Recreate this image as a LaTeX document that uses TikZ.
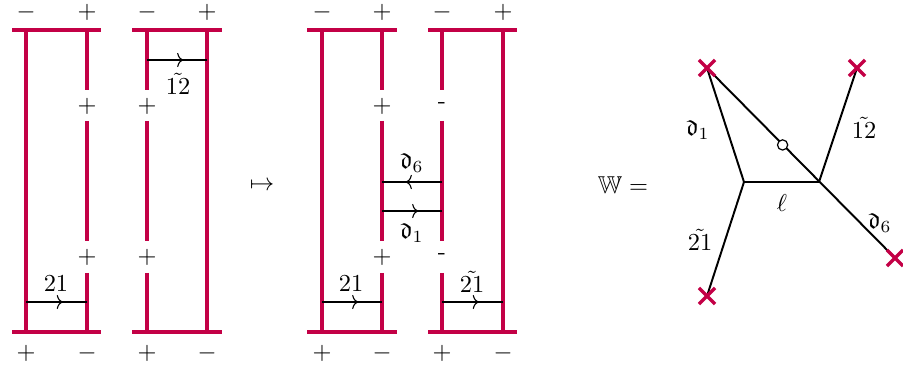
\documentclass[tikz,border=0pt]{standalone}
\usepackage{amssymb}
\usetikzlibrary{decorations.markings,shapes.misc,calc,arrows.meta}
\definecolor{crim}{RGB}{195,0,70}
\begin{document}
\begin{tikzpicture}[x=0.41pt,y=-0.41pt,
  rail/.style={draw=crim,line width=1.7pt},
  midarrow/.style={draw,line width=0.45pt,postaction={decorate},
    decoration={markings,mark=at position 0.6 with {\arrow{To[length=2.4pt,width=5.8pt]}}}},
  lbl/.style={inner sep=0pt},
  wline/.style={draw,line width=0.8pt},
  xmark/.style={draw=crim,line width=1.4pt,cross out,minimum size=5.2pt,inner sep=0pt},
  opendot/.style={draw,fill=white,circle,line width=0.5pt,minimum size=4.2pt,inner sep=0pt}]
\useasboundingbox (0,0) rectangle (903,371);

% ---------- ladder coordinates ----------
% ladder 1
\coordinate (a1tl) at (12,30);  \coordinate (a1tr) at (101,30);
\coordinate (a1bl) at (12,332); \coordinate (a1br) at (101,332);
\coordinate (a1Lt) at (26,30);  \coordinate (a1Lb) at (26,332);
\coordinate (a1Rt) at (87,30);  \coordinate (a1R1) at (87,90);
\coordinate (a1R2) at (87,121); \coordinate (a1R3) at (87,241);
\coordinate (a1R4) at (87,273); \coordinate (a1Rb) at (87,332);
% ladder 2
\coordinate (a2tl) at (132,30);  \coordinate (a2tr) at (222,30);
\coordinate (a2bl) at (132,332); \coordinate (a2br) at (222,332);
\coordinate (a2Rt) at (207,30);  \coordinate (a2Rb) at (207,332);
\coordinate (a2Lt) at (147,30);  \coordinate (a2L1) at (147,90);
\coordinate (a2L2) at (147,121); \coordinate (a2L3) at (147,241);
\coordinate (a2L4) at (147,273); \coordinate (a2Lb) at (147,332);
% ladder 3
\coordinate (a3tl) at (307,30);  \coordinate (a3tr) at (397,30);
\coordinate (a3bl) at (307,332); \coordinate (a3br) at (397,332);
\coordinate (a3Lt) at (322,30);  \coordinate (a3Lb) at (322,332);
\coordinate (a3Rt) at (382,30);  \coordinate (a3R1) at (382,90);
\coordinate (a3R2) at (382,121); \coordinate (a3R3) at (382,241);
\coordinate (a3R4) at (382,273); \coordinate (a3Rb) at (382,332);
% ladder 4
\coordinate (a4tl) at (428,30);  \coordinate (a4tr) at (517,30);
\coordinate (a4bl) at (428,332); \coordinate (a4br) at (517,332);
\coordinate (a4Rt) at (503,30);  \coordinate (a4Rb) at (503,332);
\coordinate (a4Lt) at (442,30);  \coordinate (a4L1) at (442,90);
\coordinate (a4L2) at (442,121); \coordinate (a4L3) at (442,241);
\coordinate (a4L4) at (442,273); \coordinate (a4Lb) at (442,332);

% ---------- rails ----------
\draw[rail] (a1tl) -- (a1tr);  \draw[rail] (a1bl) -- (a1br);
\draw[rail] (a1Lt) -- (a1Lb);
\draw[rail] (a1Rt) -- (a1R1);  \draw[rail] (a1R2) -- (a1R3);  \draw[rail] (a1R4) -- (a1Rb);

\draw[rail] (a2tl) -- (a2tr);  \draw[rail] (a2bl) -- (a2br);
\draw[rail] (a2Rt) -- (a2Rb);
\draw[rail] (a2Lt) -- (a2L1);  \draw[rail] (a2L2) -- (a2L3);  \draw[rail] (a2L4) -- (a2Lb);

\draw[rail] (a3tl) -- (a3tr);  \draw[rail] (a3bl) -- (a3br);
\draw[rail] (a3Lt) -- (a3Lb);
\draw[rail] (a3Rt) -- (a3R1);  \draw[rail] (a3R2) -- (a3R3);  \draw[rail] (a3R4) -- (a3Rb);

\draw[rail] (a4tl) -- (a4tr);  \draw[rail] (a4bl) -- (a4br);
\draw[rail] (a4Rt) -- (a4Rb);
\draw[rail] (a4Lt) -- (a4L1);  \draw[rail] (a4L2) -- (a4L3);  \draw[rail] (a4L4) -- (a4Lb);

% ---------- sign labels ----------
\foreach \x/\s [count=\i] in {26/-,87/+,147/-,207/+,322/-,382/+,442/-,503/+}
  \node[lbl] (top\i) at (\x,12) {$\s$};
\foreach \x/\s [count=\i] in {26/+,87/-,147/+,207/-,322/+,382/-,442/+,503/-}
  \node[lbl] (bot\i) at (\x,353) {$\s$};
\node[lbl] (m1a) at (87,106) {$+$};   \node[lbl] (m1b) at (87,257) {$+$};
\node[lbl] (m2a) at (147,106) {$+$};  \node[lbl] (m2b) at (147,257) {$+$};
\node[lbl] (m3a) at (382,106) {$+$};  \node[lbl] (m3b) at (382,257) {$+$};
\node[lbl] (m4a) at (442,106) {-};    \node[lbl] (m4b) at (442,257) {-};

% ---------- rungs ----------
\coordinate (r1a) at (26,302);  \coordinate (r1b) at (87,302);
\draw[midarrow] (r1a) -- (r1b);
\node[lbl] (l21a) at (56,284) {$21$};

\coordinate (r2a) at (147,60);  \coordinate (r2b) at (207,60);
\draw[midarrow] (r2a) -- (r2b);
\node[lbl] (l12a) at (178,84) {$\tilde{12}$};

\coordinate (r3a) at (322,302); \coordinate (r3b) at (382,302);
\draw[midarrow] (r3a) -- (r3b);
\node[lbl] (l21b) at (351,284) {$21$};

\coordinate (r4a) at (442,302); \coordinate (r4b) at (503,302);
\draw[midarrow] (r4a) -- (r4b);
\node[lbl] (l21c) at (472,282) {$\tilde{21}$};

\coordinate (r5a) at (442,182); \coordinate (r5b) at (382,182);
\draw[midarrow] (r5a) -- (r5b);
\node[lbl] (ld6) at (412,163) {$\mathfrak{d}_6$};

\coordinate (r6a) at (382,211); \coordinate (r6b) at (442,211);
\draw[midarrow] (r6a) -- (r6b);
\node[lbl] (ld1) at (412,233) {$\mathfrak{d}_1$};

\node[lbl] (mapsto) at (262,186) {$\mapsto$};

% ---------- web W ----------
\node[lbl] (Weq) at (623,185) {$\mathbb{W} =$};
\coordinate (cTL) at (707,68);
\coordinate (cTR) at (857,68);
\coordinate (cBL) at (707,296);
\coordinate (cBR) at (895,258);
\coordinate (jL) at (744,182);
\coordinate (jR) at (819,182);
\draw[wline] (cTL) -- (jL);
\draw[wline] (cBL) -- (jL);
\draw[wline] (jL) -- (jR);
\draw[wline] (jR) -- (cTR);
\draw[wline] (cTL) -- (cBR);
\node[opendot] (dot) at ($(cTL)!0.675!(jR)$) {};
\node[xmark] (xTL) at (cTL) {};
\node[xmark] (xTR) at (cTR) {};
\node[xmark] (xBL) at (cBL) {};
\node[xmark] (xBR) at (cBR) {};
\node[lbl] (wd1) at (698,130) {$\mathfrak{d}_1$};
\node[lbl] (w12) at (864,128) {$\tilde{12}$};
\node[lbl] (wl) at (782,203) {$\ell$};
\node[lbl] (wd6) at (880,223) {$\mathfrak{d}_6$};
\node[lbl] (w21) at (700,240) {$\tilde{21}$};
\end{tikzpicture}
\end{document}
